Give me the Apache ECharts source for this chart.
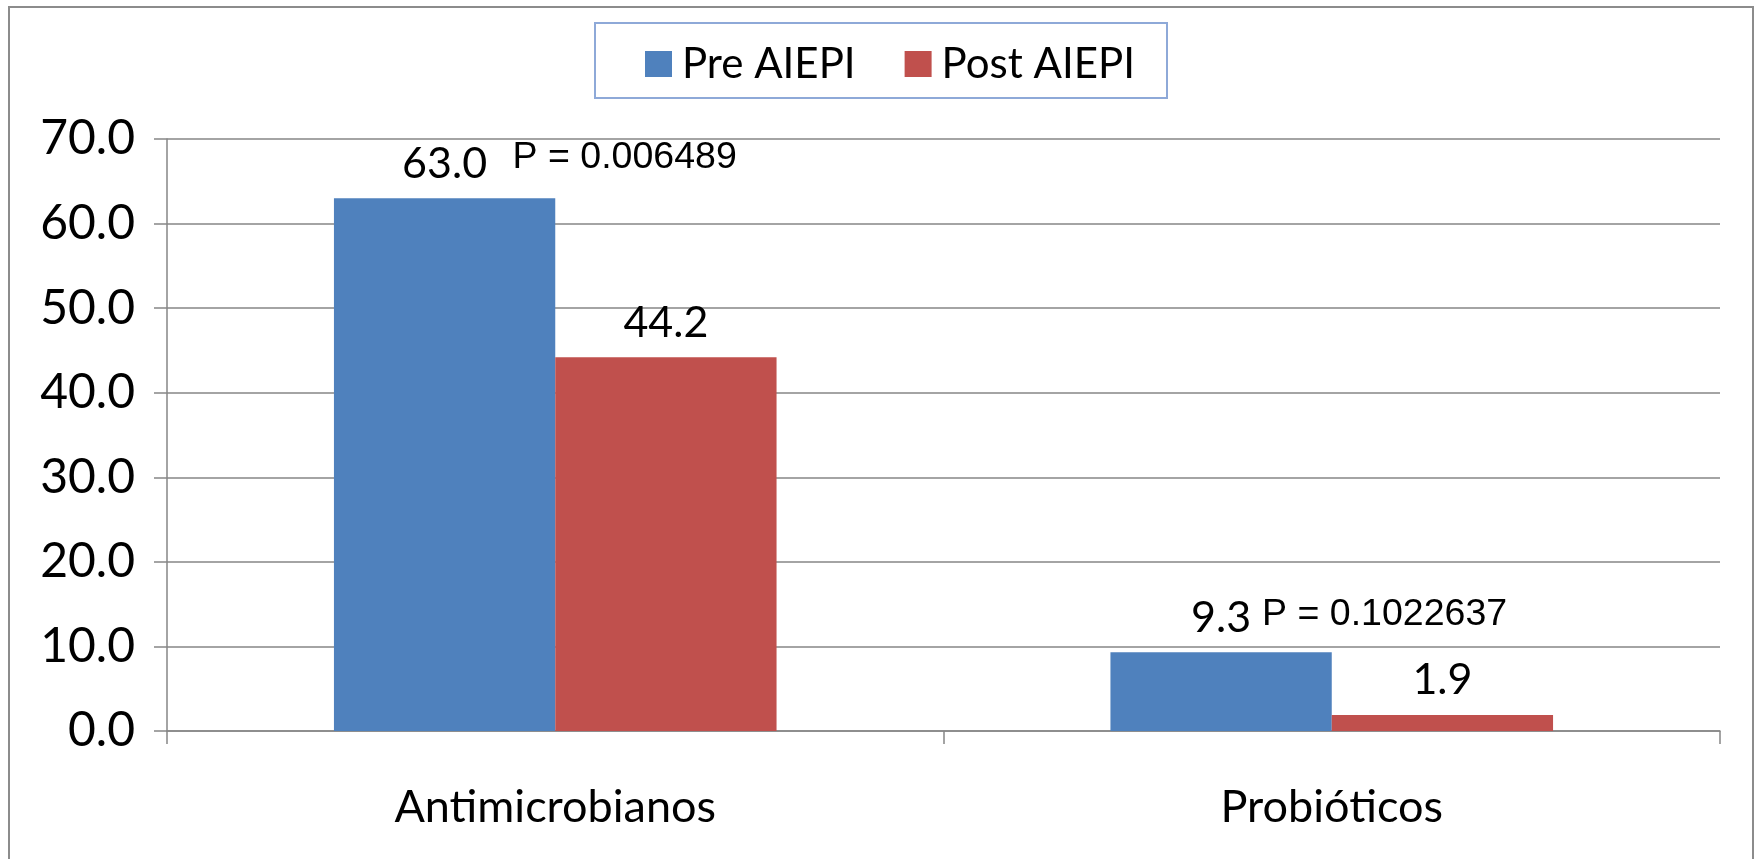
<!DOCTYPE html>
<html>
<head>
<meta charset="utf-8">
<script src="https://cdn.jsdelivr.net/npm/echarts@6/dist/echarts.min.js"></script>
<style>
html,body{margin:0;padding:0;background:#fff;}
#chart{width:1760px;height:859px;}
</style>
</head>
<body>
<div id="chart"></div>
<script>
const categories = ['Antimicrobianos', 'Probióticos'];
const seriesNames = ['Pre AIEPI', 'Post AIEPI'];
const preValues = [63.0, 9.3];
const postValues = [44.2, 1.9];
const pLabels = ['P = 0.006489', 'P = 0.1022637'];
const yTicks = [0, 10, 20, 30, 40, 50, 60, 70];

const FONT = 'Lato';
const pOffsets = [[68, -41], [41, -38]];

const chart = echarts.init(document.getElementById('chart'));
chart.setOption({
  backgroundColor: '#fff',
  animation: false,
  color: ['#4F81BD', '#C0504D'],
  graphic: [
    { type: 'rect', shape: { x: 9, y: 7, width: 1744, height: 900 }, style: { fill: 'none', stroke: '#8c8c8c', lineWidth: 2 }, silent: true },
    { type: 'rect', shape: { x: 595, y: 23, width: 572, height: 75 }, style: { fill: 'none', stroke: '#8EA9D8', lineWidth: 2 }, silent: true }
  ],
  legend: {
    left: 640,
    top: 34,
    itemWidth: 27,
    itemHeight: 26,
    itemGap: 49,
    icon: 'rect',
    data: seriesNames,
    textStyle: { fontFamily: FONT, fontSize: 42, color: '#000', lineHeight: 50, padding: [0, 0, 0, 5] }
  },
  grid: { left: 167, right: 40, top: 139, bottom: 128, containLabel: false },
  xAxis: {
    type: 'category',
    data: categories,
    axisLine: { show: true, lineStyle: { color: '#868686', width: 1.5 } },
    axisTick: { show: true, length: 13, lineStyle: { color: '#868686', width: 1.5 } },
    axisLabel: { fontFamily: FONT, fontSize: 45, color: '#000', margin: 54 }
  },
  yAxis: {
    type: 'value',
    min: yTicks[0],
    max: yTicks[yTicks.length - 1],
    interval: 10,
    axisLine: { show: true, lineStyle: { color: '#868686', width: 1.5 } },
    axisTick: { show: true, length: 13, lineStyle: { color: '#868686', width: 1.5 } },
    splitLine: { show: true, lineStyle: { color: '#868686', width: 1.5 } },
    axisLabel: { fontFamily: FONT, fontSize: 48, color: '#000', margin: 32, formatter: v => v.toFixed(1) }
  },
  series: [
    {
      name: seriesNames[0],
      type: 'bar',
      data: preValues,
      barGap: '0%',
      barCategoryGap: '43%',
      label: { show: true, position: 'top', distance: 13, fontFamily: FONT, fontSize: 43, color: '#000', formatter: p => p.value.toFixed(1) },
      markPoint: {
        symbol: 'circle',
        symbolSize: 0,
        silent: true,
        data: categories.map((c, i) => ({
          coord: [c, preValues[i]],
          label: {
            show: true,
            position: 'inside',
            align: 'left',
            offset: pOffsets[i],
            formatter: pLabels[i],
            fontFamily: 'Liberation Sans',
            fontSize: 37.5,
            color: '#000'
          }
        }))
      }
    },
    {
      name: seriesNames[1],
      type: 'bar',
      data: postValues,
      barGap: '0%',
      barCategoryGap: '43%',
      label: { show: true, position: 'top', distance: 13, fontFamily: FONT, fontSize: 43, color: '#000', formatter: p => p.value.toFixed(1) }
    }
  ]
});
</script>
</body>
</html>
